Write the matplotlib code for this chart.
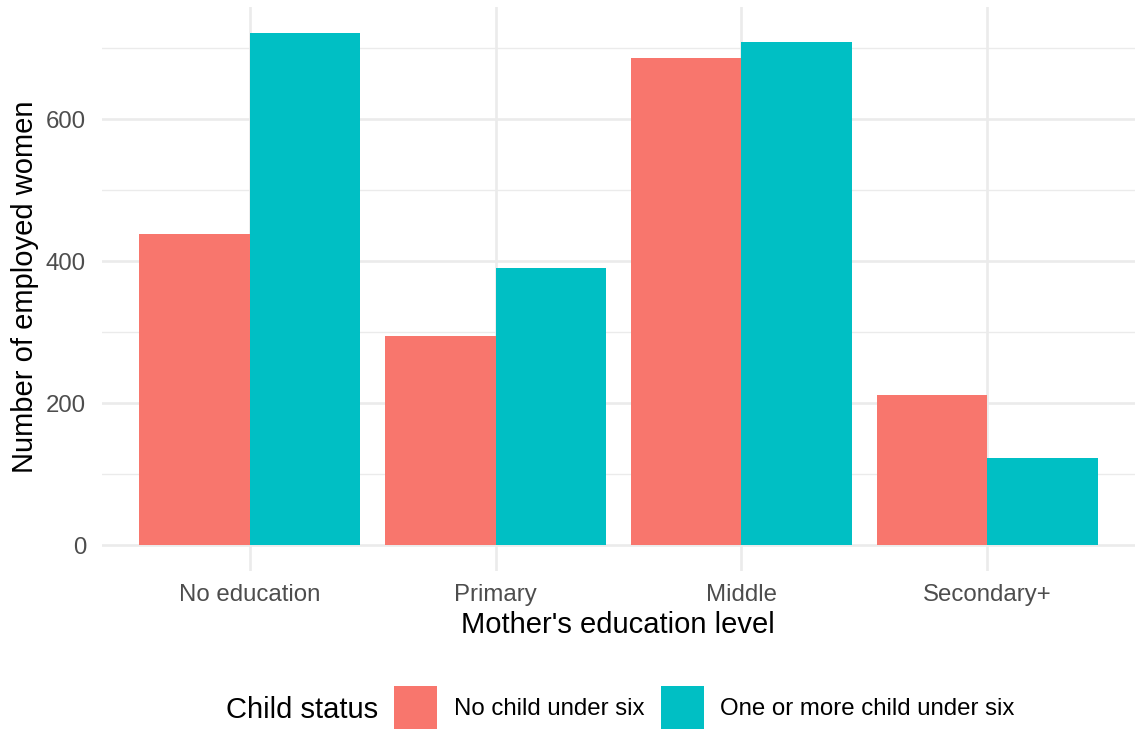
import matplotlib
matplotlib.use("Agg")
from matplotlib import pyplot as plt
from matplotlib.patches import Patch
import numpy as np

plt.rcParams['font.family'] = ['Liberation Sans', 'DejaVu Sans']

# data
education = ["No education", "Primary", "Middle", "Secondary+"]
no_child = [438, 294, 686, 211]
with_child = [722, 391, 708, 122]
series_names = ["No child under six", "One or more child under six"]
colors = ["#F8766D", "#00BFC4"]

W, H = 1135, 729
fig = plt.figure(figsize=(W / 100, H / 100), dpi=100)
ax = fig.add_axes([102 / W, (H - 571) / H, (W - 102) / W, (571 - 7) / H])

x = np.arange(1, len(education) + 1)
bw = 0.45
ax.bar(x - bw / 2, no_child, width=bw, color=colors[0], zorder=3)
ax.bar(x + bw / 2, with_child, width=bw, color=colors[1], zorder=3)

ax.set_xlim(0.4, 4.6)
ax.set_ylim(-36.5, 758)
ax.set_xticks(x)
ax.set_xticklabels(education, va='baseline')
ax.set_yticks([0, 200, 400, 600])
ax.set_yticks([100, 300, 500, 700], minor=True)

grid = "#EBEBEB"
ax.grid(True, which='major', color=grid, linewidth=1.9, zorder=0)
ax.grid(True, which='minor', axis='y', color=grid, linewidth=1.0, zorder=0)
for s in ax.spines.values():
    s.set_visible(False)
ax.tick_params(which='both', length=0)
# baseline of x labels ~30px under the panel
ax.tick_params(axis='x', labelsize=17.3, labelcolor="#4D4D4D", pad=30 * 0.72)
ax.tick_params(axis='y', labelsize=17.3, labelcolor="#4D4D4D", pad=11.5)

fig.text(618 / W, 1 - 633 / H, "Mother's education level", fontsize=21,
         ha='center', va='baseline')
fig.text(33 / W, 1 - 286.5 / H, "Number of employed women", fontsize=21,
         rotation=90, rotation_mode='anchor', ha='center', va='baseline')

# legend
fig.text(226 / W, 1 - 718 / H, "Child status", fontsize=21, ha='left', va='baseline')
handles = [Patch(facecolor=c, edgecolor='none') for c in colors]
fs = 17.3 * 100 / 72
key = 43 / fs
fig.legend(handles, series_names, ncol=2, loc='center left',
           bbox_to_anchor=(394 / W, 1 - 707.5 / H), fontsize=17.3, frameon=False,
           handlelength=key, handleheight=(key - 0.245) / 0.65,
           handletextpad=17 / fs, columnspacing=16 / fs,
           borderpad=0, borderaxespad=0)

fig.savefig("out.png", dpi=100)
